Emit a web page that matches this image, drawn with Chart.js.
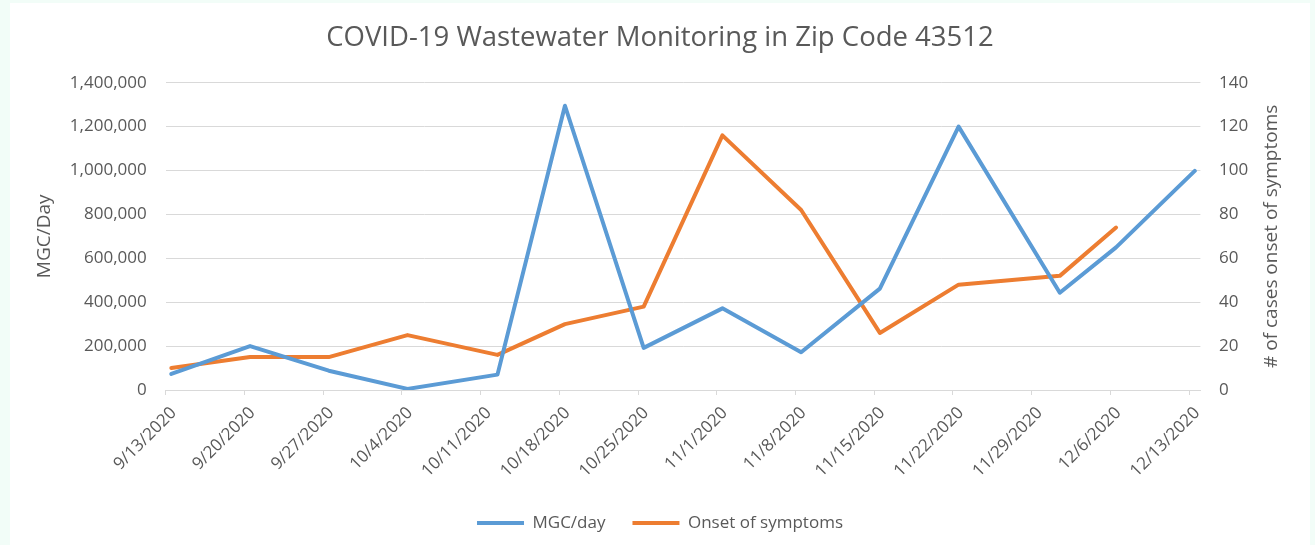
<!DOCTYPE html>
<html>
<head>
<meta charset="utf-8">
<script src="https://cdn.jsdelivr.net/npm/chart.js@4.4.1/dist/chart.umd.min.js"></script>
<style>
  html, body { margin: 0; padding: 0; background: #f2fdf8; }
  #wrap { position: absolute; left: 10px; top: 3px; width: 1300px; height: 542px; background: #fff; }
</style>
</head>
<body>
<div id="wrap"><canvas id="chart"></canvas></div>
<script>
// dates on the x axis (weekly ticks)
const tickDates = ['9/13/2020', '9/20/2020', '9/27/2020', '10/4/2020', '10/11/2020', '10/18/2020', '10/25/2020',
    '11/1/2020', '11/8/2020', '11/15/2020', '11/22/2020', '11/29/2020', '12/6/2020', '12/13/2020'];

// wastewater samples
const mgcDates = ['9/13/2020', '9/20/2020', '9/27/2020', '10/4/2020', '10/12/2020', '10/18/2020', '10/25/2020',
    '11/1/2020', '11/8/2020', '11/15/2020', '11/22/2020', '12/1/2020', '12/6/2020', '12/13/2020'];
const mgcValues = [73000, 200000, 88000, 5000, 70000, 1295000, 192000, 372000, 172000, 462000, 1200000, 443000, 650000, 998000];

// cases by onset of symptoms
const onsetDates = ['9/13/2020', '9/20/2020', '9/27/2020', '10/4/2020', '10/12/2020', '10/18/2020', '10/25/2020',
    '11/1/2020', '11/8/2020', '11/15/2020', '11/22/2020', '12/1/2020', '12/6/2020'];
const onsetValues = [10, 15, 15, 25, 16, 30, 38, 116, 82, 26, 48, 52, 74];

const startDay = Date.UTC(2020, 8, 13);
function dayOf(s) {
    const [m, d, y] = s.split('/').map(Number);
    return (Date.UTC(y, m - 1, d) - startDay) / 86400000;
}
// points sit in the middle of their day, like an Excel date axis
const toPoints = (dates, values) => dates.map((d, i) => ({ x: dayOf(d) + 0.5, y: values[i] }));

const textColor = '#595959';
const gridColor = '#d9d9d9';
Chart.defaults.font.family = "'Open Sans', sans-serif";
Chart.defaults.color = textColor;

const rightTitle = {
    id: 'rightTitle',
    afterDraw(chart) {
        const s = chart.scales.y1;
        const ctx = chart.ctx;
        ctx.save();
        ctx.translate(s.right - 38, (s.top + s.bottom) / 2);
        ctx.rotate(-Math.PI / 2);
        ctx.font = "19px 'Open Sans', sans-serif";
        ctx.fillStyle = textColor;
        ctx.textAlign = 'center';
        ctx.textBaseline = 'middle';
        ctx.fillText('# of cases onset of symptoms', 0, 0);
        ctx.restore();
    }
};

new Chart(document.getElementById('chart'), {
    type: 'line',
    data: {
        datasets: [{
            label: 'MGC/day',
            data: toPoints(mgcDates, mgcValues),
            borderColor: '#5b9bd5',
            backgroundColor: '#5b9bd5',
            borderWidth: 4,
            borderCapStyle: 'round',
            borderJoinStyle: 'round',
            pointRadius: 0,
            yAxisID: 'y'
        }, {
            label: 'Onset of symptoms',
            data: toPoints(onsetDates, onsetValues),
            borderColor: '#ed7d31',
            backgroundColor: '#ed7d31',
            borderWidth: 4,
            borderCapStyle: 'round',
            borderJoinStyle: 'round',
            pointRadius: 0,
            yAxisID: 'y1'
        }]
    },
    options: {
        responsive: true,
        maintainAspectRatio: false,
        animation: false,
        layout: { padding: { left: 0, right: 0, top: 0, bottom: 3.5 } },
        plugins: {
            title: {
                display: true,
                text: 'COVID-19 Wastewater Monitoring in Zip Code 43512',
                color: textColor,
                font: { size: 27.5, weight: 'normal' },
                padding: { top: 19, bottom: 27.7 }
            },
            legend: {
                position: 'bottom',
                labels: {
                    usePointStyle: true,
                    pointStyle: 'line',
                    pointStyleWidth: 47,
                    padding: 27,
                    font: { size: 17 },
                    color: textColor
                }
            },
            tooltip: { enabled: false }
        },
        scales: {
            x: {
                type: 'linear',
                min: 0,
                max: 92,
                afterBuildTicks: s => { s.ticks = tickDates.map(d => ({ value: dayOf(d) })); },
                afterFit: s => { s.height = 97.5; },
                ticks: {
                    minRotation: 45,
                    maxRotation: 45,
                    autoSkip: false,
                    padding: 8,
                    labelOffset: 8,
                    font: { size: 17 },
                    callback: (v, i) => tickDates[i]
                },
                grid: { drawOnChartArea: false, color: gridColor, tickLength: 5 },
                border: { color: gridColor }
            },
            y: {
                position: 'left',
                min: 0,
                max: 1400000,
                afterFit: s => { s.width = 155.7; },
                ticks: {
                    stepSize: 200000,
                    padding: 19,
                    font: { size: 17 },
                    callback: v => v.toLocaleString('en-US')
                },
                grid: { color: gridColor, drawTicks: false },
                border: { display: false },
                title: {
                    display: true,
                    text: 'MGC/Day',
                    font: { size: 19 },
                    padding: { top: 23, bottom: 0 }
                }
            },
            y1: {
                position: 'right',
                min: 0,
                max: 140,
                afterFit: s => { s.width = 109.6; },
                ticks: { stepSize: 20, padding: 18.6, font: { size: 17 } },
                grid: { drawOnChartArea: false, drawTicks: false },
                border: { display: false }
            }
        }
    },
    plugins: [rightTitle]
});
</script>
</body>
</html>
